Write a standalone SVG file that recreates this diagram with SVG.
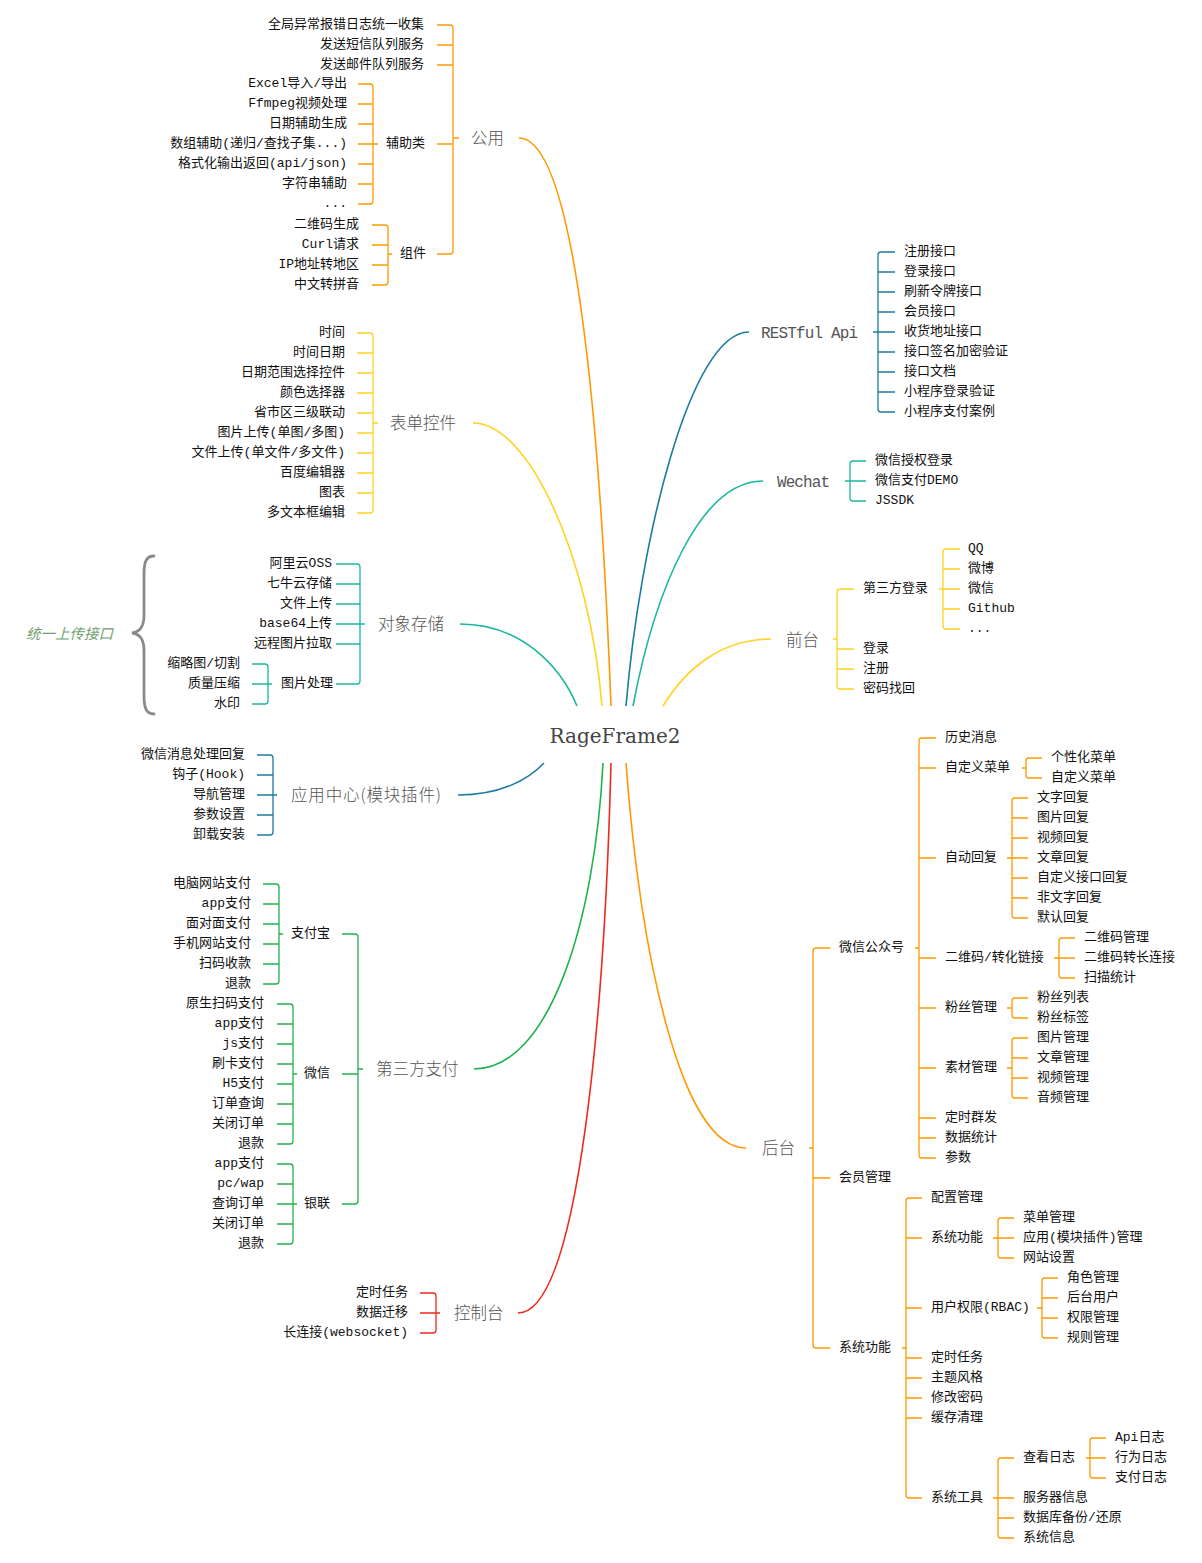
<svg xmlns="http://www.w3.org/2000/svg" width="1202" height="1563" viewBox="0 0 1202 1563">
<style>
text{font-family:"Liberation Mono","Noto Sans CJK SC",monospace;font-size:13px;fill:#111}
.e{text-anchor:end}
.m{font-family:"Noto Sans CJK SC","Liberation Sans",sans-serif;font-size:16.5px;fill:#555;font-weight:300}
.mm{font-family:"Liberation Mono",monospace;font-size:16px;fill:#555}
.root{font-family:"DejaVu Serif",serif;font-size:20px;fill:#444;text-anchor:middle}
.note{font-family:"Noto Sans CJK SC",sans-serif;font-size:14.5px;font-style:italic;fill:#6f9f6f}
path{fill:none;stroke-width:1.3}
.cv{stroke-width:1.6}
.o{stroke:#FF9900}.y{stroke:#FFD21F}.t{stroke:#1AB79D}.b{stroke:#1B7BA0}.g{stroke:#20B24C}.r{stroke:#EE2A1B}
.brace{stroke:#8a8a8a;stroke-width:2.8;stroke-linecap:round}
</style>
<g id="connectors">
<path class="o cv" d="M519,138C575,138 600,420 611,706"/>
<path class="y cv" d="M473,423C530,423 590,560 602,706"/>
<path class="t cv" d="M460,624C520,624 560,665 577,706"/>
<path class="b cv" d="M749,332C690,332 640,540 626,706"/>
<path class="t cv" d="M763,481C700,481 655,590 633,706"/>
<path class="y cv" d="M771,639C720,639 685,670 663,706"/>
<path class="b cv" d="M458,795C500,795 528,780 544,763"/>
<path class="g cv" d="M474,1069C550,1069 595,920 603,763"/>
<path class="r cv" d="M518,1313C580,1313 605,1000 611,763"/>
<path class="o cv" d="M746,1148C680,1148 640,950 626,763"/>
<path class="o" d="M437,25H450Q453,25 453,28V251Q453,254 450,254H437M437,45H453M437,65H453M437,144H453M453,138H459"/>
<path class="o" d="M358,84H370Q373,84 373,87V201Q373,204 370,204H358M358,104H373M358,124H373M358,144H373M358,164H373M358,184H373M373,144H378"/>
<path class="o" d="M372,225H385Q388,225 388,228V282Q388,285 385,285H372M372,245H388M372,265H388M388,254H392"/>
<path class="y" d="M357,333H370Q373,333 373,336V510Q373,513 370,513H357M357,353H373M357,373H373M357,393H373M357,413H373M357,433H373M357,453H373M357,473H373M357,493H373M373,423H378"/>
<path class="t" d="M336,564H357Q360,564 360,567V681Q360,684 357,684H336M336,584H360M336,604H360M336,624H360M336,644H360M360,624H365"/>
<path class="t" d="M252,664H265Q268,664 268,667V701Q268,704 265,704H252M252,684H268M268,684H272"/>
<path class="brace" d="M154,556C146,556 144,562 144,575L144,615C144,627 140,632 132,633C140,634 144,639 144,651L144,695C144,708 146,714 154,714"/>
<path class="b" d="M257,755H270Q273,755 273,758V832Q273,835 270,835H257M257,775H273M257,795H273M257,815H273M273,795H277"/>
<path class="g" d="M342,934H355Q358,934 358,937V1201Q358,1204 355,1204H342M342,1074H358M358,1069H363"/>
<path class="g" d="M263,884H276Q279,884 279,887V981Q279,984 276,984H263M263,904H279M263,924H279M263,944H279M263,964H279M279,934H283"/>
<path class="g" d="M277,1004H290Q293,1004 293,1007V1141Q293,1144 290,1144H277M277,1024H293M277,1044H293M277,1064H293M277,1084H293M277,1104H293M277,1124H293M293,1074H297"/>
<path class="g" d="M277,1164H290Q293,1164 293,1167V1241Q293,1244 290,1244H277M277,1184H293M277,1204H293M277,1224H293M293,1204H297"/>
<path class="r" d="M420,1293H433Q436,1293 436,1296V1330Q436,1333 433,1333H420M420,1313H436M436,1313H440"/>
<path class="b" d="M895,252H881Q878,252 878,255V409Q878,412 881,412H895M878,272H895M878,292H895M878,312H895M878,332H895M878,352H895M878,372H895M878,392H895M873,332H878"/>
<path class="t" d="M866,461H853Q850,461 850,464V498Q850,501 853,501H866M850,481H866M845,481H850"/>
<path class="y" d="M854,589H840Q837,589 837,592V686Q837,689 840,689H854M837,649H854M837,669H854M833,639H837"/>
<path class="y" d="M960,549H946Q943,549 943,552V626Q943,629 946,629H960M943,569H960M943,589H960M943,609H960M939,589H943"/>
<path class="o" d="M830,948H816Q813,948 813,951V1345Q813,1348 816,1348H830M813,1178H830M809,1148H813"/>
<path class="o" d="M936,738H922Q919,738 919,741V1155Q919,1158 922,1158H936M919,768H936M919,858H936M919,958H936M919,1008H936M919,1068H936M919,1118H936M919,1138H936M915,948H919"/>
<path class="o" d="M1042,758H1029Q1026,758 1026,761V775Q1026,778 1029,778H1042M1022,768H1026"/>
<path class="o" d="M1028,798H1015Q1012,798 1012,801V915Q1012,918 1015,918H1028M1012,818H1028M1012,838H1028M1012,858H1028M1012,878H1028M1012,898H1028M1007,858H1012"/>
<path class="o" d="M1075,938H1062Q1059,938 1059,941V975Q1059,978 1062,978H1075M1059,958H1075M1054,958H1059"/>
<path class="o" d="M1028,998H1015Q1012,998 1012,1001V1015Q1012,1018 1015,1018H1028M1007,1008H1012"/>
<path class="o" d="M1028,1038H1015Q1012,1038 1012,1041V1095Q1012,1098 1015,1098H1028M1012,1058H1028M1012,1078H1028M1007,1068H1012"/>
<path class="o" d="M922,1198H909Q906,1198 906,1201V1495Q906,1498 909,1498H922M906,1238H922M906,1308H922M906,1358H922M906,1378H922M906,1398H922M906,1418H922M902,1348H906"/>
<path class="o" d="M1014,1218H1001Q998,1218 998,1221V1255Q998,1258 1001,1258H1014M998,1238H1014M993,1238H998"/>
<path class="o" d="M1058,1278H1045Q1042,1278 1042,1281V1335Q1042,1338 1045,1338H1058M1042,1298H1058M1042,1318H1058M1037,1308H1042"/>
<path class="o" d="M1014,1458H1001Q998,1458 998,1461V1535Q998,1538 1001,1538H1014M998,1498H1014M998,1518H1014M993,1498H998"/>
<path class="o" d="M1106,1438H1093Q1090,1438 1090,1441V1475Q1090,1478 1093,1478H1106M1090,1458H1106M1086,1458H1090"/>
</g>
<g id="root"><text class="root" x="615" y="743">RageFrame2</text></g>
<g id="n-gongyong"><text class="m" x="471" y="144.3">公用</text></g>
<g id="n-g1"><text class="e" x="424" y="27.5">全局异常报错日志统一收集</text></g>
<g id="n-g2"><text class="e" x="424" y="47.5">发送短信队列服务</text></g>
<g id="n-g3"><text class="e" x="424" y="67.5">发送邮件队列服务</text></g>
<g id="n-fuzhu"><text class="e" x="425" y="146.5">辅助类</text></g>
<g id="n-f1"><text class="e" x="347" y="86.5">Excel导入/导出</text></g>
<g id="n-f2"><text class="e" x="347" y="106.5">Ffmpeg视频处理</text></g>
<g id="n-f3"><text class="e" x="347" y="126.5">日期辅助生成</text></g>
<g id="n-f4"><text class="e" x="347" y="146.5">数组辅助(递归/查找子集...)</text></g>
<g id="n-f5"><text class="e" x="347" y="166.5">格式化输出返回(api/json)</text></g>
<g id="n-f6"><text class="e" x="347" y="186.5">字符串辅助</text></g>
<g id="n-f7"><text class="e" x="347" y="207">...</text></g>
<g id="n-zujian"><text class="e" x="426" y="256.5">组件</text></g>
<g id="n-z1"><text class="e" x="359" y="227.5">二维码生成</text></g>
<g id="n-z2"><text class="e" x="359" y="247.5">Curl请求</text></g>
<g id="n-z3"><text class="e" x="359" y="267.5">IP地址转地区</text></g>
<g id="n-z4"><text class="e" x="359" y="287.5">中文转拼音</text></g>
<g id="n-biaodan"><text class="m" x="390" y="429">表单控件</text></g>
<g id="n-b1"><text class="e" x="345" y="336">时间</text></g>
<g id="n-b2"><text class="e" x="345" y="356">时间日期</text></g>
<g id="n-b3"><text class="e" x="345" y="376">日期范围选择控件</text></g>
<g id="n-b4"><text class="e" x="345" y="396">颜色选择器</text></g>
<g id="n-b5"><text class="e" x="345" y="416">省市区三级联动</text></g>
<g id="n-b6"><text class="e" x="345" y="436">图片上传(单图/多图)</text></g>
<g id="n-b7"><text class="e" x="345" y="456">文件上传(单文件/多文件)</text></g>
<g id="n-b8"><text class="e" x="345" y="476">百度编辑器</text></g>
<g id="n-b9"><text class="e" x="345" y="496">图表</text></g>
<g id="n-b10"><text class="e" x="345" y="516">多文本框编辑</text></g>
<g id="n-cunchu"><text class="m" x="378" y="630.3">对象存储</text></g>
<g id="n-c1"><text class="e" x="332" y="567">阿里云OSS</text></g>
<g id="n-c2"><text class="e" x="332" y="587">七牛云存储</text></g>
<g id="n-c3"><text class="e" x="332" y="607">文件上传</text></g>
<g id="n-c4"><text class="e" x="332" y="627">base64上传</text></g>
<g id="n-c5"><text class="e" x="332" y="647">远程图片拉取</text></g>
<g id="n-tupian"><text class="e" x="333" y="687">图片处理</text></g>
<g id="n-t1"><text class="e" x="240" y="667">缩略图/切割</text></g>
<g id="n-t2"><text class="e" x="240" y="687">质量压缩</text></g>
<g id="n-t3"><text class="e" x="240" y="707">水印</text></g>
<g id="n-note"><text class="note" x="26" y="638.5">统一上传接口</text></g>
<g id="n-yingyong"><text class="m" x="291" y="800.5" textLength="150" lengthAdjust="spacing">应用中心(模块插件)</text></g>
<g id="n-y1"><text class="e" x="245" y="758">微信消息处理回复</text></g>
<g id="n-y2"><text class="e" x="245" y="778">钩子(Hook)</text></g>
<g id="n-y3"><text class="e" x="245" y="798">导航管理</text></g>
<g id="n-y4"><text class="e" x="245" y="818">参数设置</text></g>
<g id="n-y5"><text class="e" x="245" y="838">卸载安装</text></g>
<g id="n-zhifu"><text class="m" x="376" y="1075">第三方支付</text></g>
<g id="n-alipay"><text class="e" x="330" y="937">支付宝</text></g>
<g id="n-a1"><text class="e" x="251" y="887">电脑网站支付</text></g>
<g id="n-a2"><text class="e" x="251" y="907">app支付</text></g>
<g id="n-a3"><text class="e" x="251" y="927">面对面支付</text></g>
<g id="n-a4"><text class="e" x="251" y="947">手机网站支付</text></g>
<g id="n-a5"><text class="e" x="251" y="967">扫码收款</text></g>
<g id="n-a6"><text class="e" x="251" y="987">退款</text></g>
<g id="n-wxpay"><text class="e" x="330" y="1077">微信</text></g>
<g id="n-w1"><text class="e" x="264" y="1007">原生扫码支付</text></g>
<g id="n-w2"><text class="e" x="264" y="1027">app支付</text></g>
<g id="n-w3"><text class="e" x="264" y="1047">js支付</text></g>
<g id="n-w4"><text class="e" x="264" y="1067">刷卡支付</text></g>
<g id="n-w5"><text class="e" x="264" y="1087">H5支付</text></g>
<g id="n-w6"><text class="e" x="264" y="1107">订单查询</text></g>
<g id="n-w7"><text class="e" x="264" y="1127">关闭订单</text></g>
<g id="n-w8"><text class="e" x="264" y="1147">退款</text></g>
<g id="n-union"><text class="e" x="330" y="1207">银联</text></g>
<g id="n-u1"><text class="e" x="264" y="1167">app支付</text></g>
<g id="n-u2"><text class="e" x="264" y="1187">pc/wap</text></g>
<g id="n-u3"><text class="e" x="264" y="1207">查询订单</text></g>
<g id="n-u4"><text class="e" x="264" y="1227">关闭订单</text></g>
<g id="n-u5"><text class="e" x="264" y="1247">退款</text></g>
<g id="n-console"><text class="m" x="454" y="1319">控制台</text></g>
<g id="n-k1"><text class="e" x="408" y="1296">定时任务</text></g>
<g id="n-k2"><text class="e" x="408" y="1316">数据迁移</text></g>
<g id="n-k3"><text class="e" x="408" y="1336">长连接(websocket)</text></g>
<g id="n-rest"><text class="mm" x="761" y="337.5" textLength="97" lengthAdjust="spacing">RESTful Api</text></g>
<g id="n-r1"><text x="904" y="255">注册接口</text></g>
<g id="n-r2"><text x="904" y="275">登录接口</text></g>
<g id="n-r3"><text x="904" y="295">刷新令牌接口</text></g>
<g id="n-r4"><text x="904" y="315">会员接口</text></g>
<g id="n-r5"><text x="904" y="335">收货地址接口</text></g>
<g id="n-r6"><text x="904" y="355">接口签名加密验证</text></g>
<g id="n-r7"><text x="904" y="375">接口文档</text></g>
<g id="n-r8"><text x="904" y="395">小程序登录验证</text></g>
<g id="n-r9"><text x="904" y="415">小程序支付案例</text></g>
<g id="n-wechat"><text class="mm" x="777" y="486.5" textLength="53" lengthAdjust="spacing">Wechat</text></g>
<g id="n-wc1"><text x="875" y="464">微信授权登录</text></g>
<g id="n-wc2"><text x="875" y="484">微信支付DEMO</text></g>
<g id="n-wc3"><text x="875" y="504">JSSDK</text></g>
<g id="n-front"><text class="m" x="786" y="645.5">前台</text></g>
<g id="n-q1"><text x="863" y="592">第三方登录</text></g>
<g id="n-q2"><text x="863" y="652">登录</text></g>
<g id="n-q3"><text x="863" y="672">注册</text></g>
<g id="n-q4"><text x="863" y="692">密码找回</text></g>
<g id="n-s1"><text x="968" y="552">QQ</text></g>
<g id="n-s2"><text x="968" y="572">微博</text></g>
<g id="n-s3"><text x="968" y="592">微信</text></g>
<g id="n-s4"><text x="968" y="612">Github</text></g>
<g id="n-s5"><text x="968" y="632">...</text></g>
<g id="n-back"><text class="m" x="762" y="1154">后台</text></g>
<g id="n-mp"><text x="839" y="951">微信公众号</text></g>
<g id="n-member"><text x="839" y="1181">会员管理</text></g>
<g id="n-sys"><text x="839" y="1351">系统功能</text></g>
<g id="n-mp1"><text x="945" y="741">历史消息</text></g>
<g id="n-mp2"><text x="945" y="771">自定义菜单</text></g>
<g id="n-mp3"><text x="945" y="861">自动回复</text></g>
<g id="n-mp4"><text x="945" y="961">二维码/转化链接</text></g>
<g id="n-mp5"><text x="945" y="1011">粉丝管理</text></g>
<g id="n-mp6"><text x="945" y="1071">素材管理</text></g>
<g id="n-mp7"><text x="945" y="1121">定时群发</text></g>
<g id="n-mp8"><text x="945" y="1141">数据统计</text></g>
<g id="n-mp9"><text x="945" y="1161">参数</text></g>
<g id="n-cm1"><text x="1051" y="761">个性化菜单</text></g>
<g id="n-cm2"><text x="1051" y="781">自定义菜单</text></g>
<g id="n-ar1"><text x="1037" y="801">文字回复</text></g>
<g id="n-ar2"><text x="1037" y="821">图片回复</text></g>
<g id="n-ar3"><text x="1037" y="841">视频回复</text></g>
<g id="n-ar4"><text x="1037" y="861">文章回复</text></g>
<g id="n-ar5"><text x="1037" y="881">自定义接口回复</text></g>
<g id="n-ar6"><text x="1037" y="901">非文字回复</text></g>
<g id="n-ar7"><text x="1037" y="921">默认回复</text></g>
<g id="n-qr1"><text x="1084" y="941">二维码管理</text></g>
<g id="n-qr2"><text x="1084" y="961">二维码转长连接</text></g>
<g id="n-qr3"><text x="1084" y="981">扫描统计</text></g>
<g id="n-fan1"><text x="1037" y="1001">粉丝列表</text></g>
<g id="n-fan2"><text x="1037" y="1021">粉丝标签</text></g>
<g id="n-mat1"><text x="1037" y="1041">图片管理</text></g>
<g id="n-mat2"><text x="1037" y="1061">文章管理</text></g>
<g id="n-mat3"><text x="1037" y="1081">视频管理</text></g>
<g id="n-mat4"><text x="1037" y="1101">音频管理</text></g>
<g id="n-sy1"><text x="931" y="1201">配置管理</text></g>
<g id="n-sy2"><text x="931" y="1241">系统功能</text></g>
<g id="n-sy3"><text x="931" y="1311">用户权限(RBAC)</text></g>
<g id="n-sy4"><text x="931" y="1361">定时任务</text></g>
<g id="n-sy5"><text x="931" y="1381">主题风格</text></g>
<g id="n-sy6"><text x="931" y="1401">修改密码</text></g>
<g id="n-sy7"><text x="931" y="1421">缓存清理</text></g>
<g id="n-sy8"><text x="931" y="1501">系统工具</text></g>
<g id="n-sf1"><text x="1023" y="1221">菜单管理</text></g>
<g id="n-sf2"><text x="1023" y="1241">应用(模块插件)管理</text></g>
<g id="n-sf3"><text x="1023" y="1261">网站设置</text></g>
<g id="n-rb1"><text x="1067" y="1281">角色管理</text></g>
<g id="n-rb2"><text x="1067" y="1301">后台用户</text></g>
<g id="n-rb3"><text x="1067" y="1321">权限管理</text></g>
<g id="n-rb4"><text x="1067" y="1341">规则管理</text></g>
<g id="n-tl1"><text x="1023" y="1461">查看日志</text></g>
<g id="n-tl2"><text x="1023" y="1501">服务器信息</text></g>
<g id="n-tl3"><text x="1023" y="1521">数据库备份/还原</text></g>
<g id="n-tl4"><text x="1023" y="1541">系统信息</text></g>
<g id="n-lg1"><text x="1115" y="1441">Api日志</text></g>
<g id="n-lg2"><text x="1115" y="1461">行为日志</text></g>
<g id="n-lg3"><text x="1115" y="1481">支付日志</text></g>
</svg>
